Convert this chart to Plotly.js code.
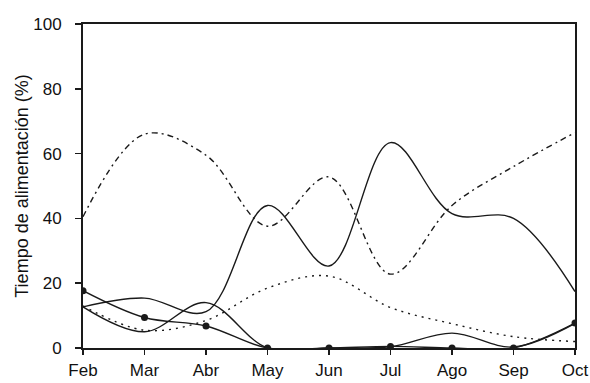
<!DOCTYPE html>
<html>
<head>
<meta charset="utf-8">
<script src="https://cdn.plot.ly/plotly-3.0.1.min.js"></script>
<style>html,body{margin:0;padding:0;background:#fff;}#chart{width:590px;height:383px;}</style>
</head>
<body>
<div id="chart"></div>
<script>
var months = ["Feb", "Mar", "Abr", "May", "Jun", "Jul", "Ago", "Sep", "Oct"];
var yTicks = [0, 20, 40, 60, 80, 100];
var serieSolidaAlta = [12.7, 15.4, 11.2, 44, 25.3, 63.4, 41.5, 40, 17.4];
var serieSolidaBaja = [12.7, 5, 14, 0, 0, 0.4, 4.6, 0.3, 7.6];
var serieMarcadores = [17.7, 9.4, 6.8, 0, 0, 0.5, 0, 0, 7.7];
var seriePunteada = [13, 5.5, 8.5, 18.5, 22.2, 12.5, 7.5, 3.5, 2];
var serieRayaPunto = [40.5, 66, 59.5, 37.6, 52.8, 22.8, 44, 56, 66.5];

var ink = '#1a1a1a';
function line(y, dash, extra) {
  var t = {
    x: months, y: y, type: 'scatter', mode: 'lines',
    line: {color: ink, width: 1.4, shape: 'spline', smoothing: 1, dash: dash},
    hoverinfo: 'skip', showlegend: false
  };
  if (extra) { for (var k in extra) t[k] = extra[k]; }
  return t;
}
var traces = [
  line(serieRayaPunto, '6px,4px,2px,4px'),
  line(seriePunteada, '2px,5px'),
  line(serieSolidaAlta, 'solid'),
  line(serieSolidaBaja, 'solid'),
  line(serieMarcadores, 'solid', {mode: 'lines+markers', marker: {color: ink, size: 7, symbol: 'circle'}})
];

var layout = {
  width: 590, height: 383,
  margin: {l: 83, r: 15, t: 24, b: 35},
  paper_bgcolor: '#fff', plot_bgcolor: '#fff',
  font: {family: 'Liberation Sans, Arial, sans-serif', size: 17, color: '#111'},
  showlegend: false,
  xaxis: {
    type: 'category', range: [0, 8], showgrid: false, zeroline: false,
    showline: true, linecolor: ink, linewidth: 2, mirror: true,
    ticks: 'outside', ticklen: 5, tickwidth: 1.5, tickcolor: ink,
    ticklabelstandoff: 1, fixedrange: true
  },
  yaxis: {
    range: [0, 100], tickvals: yTicks, ticktext: yTicks.map(String),
    showgrid: false, zeroline: false,
    showline: true, linecolor: ink, linewidth: 2, mirror: true,
    ticks: 'outside', ticklen: 6, tickwidth: 1.5, tickcolor: ink,
    ticklabelstandoff: 10,
    title: {text: 'Tiempo de alimentación (%)', font: {size: 18}, standoff: 0},
    fixedrange: true
  }
};
Plotly.newPlot('chart', traces, layout, {staticPlot: true});
</script>
</body>
</html>
